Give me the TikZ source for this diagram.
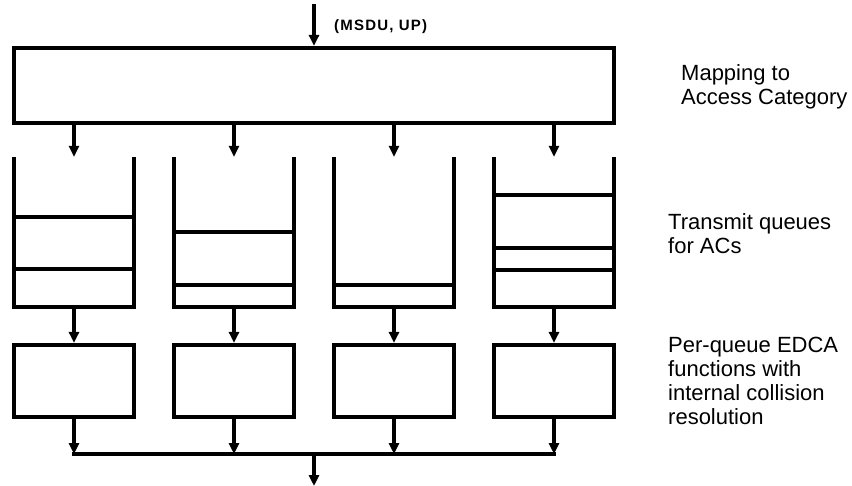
\documentclass[tikz,border=0pt]{standalone}
\usepackage{fontspec}
\setmainfont{Liberation Sans}
\usetikzlibrary{arrows.meta}
\begin{document}
\begin{tikzpicture}[x=1pt,y=-1pt,
  box/.style={draw, line width=4.2pt, minimum width=120pt, inner sep=0pt},
  qbox/.style={minimum width=120pt, minimum height=150pt, inner sep=0pt},
  qline/.style={line width=4.2pt, line join=miter},
  sep/.style={line width=4pt},
  arr/.style={line width=3.2pt, -{Triangle[length=11pt,width=10pt]}},
  bus/.style={line width=3.4pt},
  lbl/.style={anchor=west, align=left, inner sep=0pt, font=\fontsize{22}{24}\selectfont},
  ]
\useasboundingbox (0,0) rectangle (852,486);

% mapping box
\node[box, minimum width=600pt, minimum height=75pt] (map) at (314,85.5) {};
\coordinate (in) at (314,4);
\draw[arr] (in) -- (map.north);
\node[anchor=west, inner sep=0pt, font=\fontsize{15}{17}\selectfont\bfseries\addfontfeature{LetterSpace=8}] (msdu) at (334,27) {(MSDU, UP)};

% queues
\foreach \i/\x in {1/74,2/234,3/394,4/554}{
  \node[qbox] (q\i) at (\x,232) {};
  \draw[qline] (q\i.north west) -- (q\i.south west) -- (q\i.south east) -- (q\i.north east);
  \draw[arr] (map.south -| q\i.north) -- (q\i.north);
  \node[box, minimum height=72pt] (e\i) at (\x,381) {};
  \draw[arr] (q\i.south) -- (e\i.north);
  \coordinate (b\i) at (\x,454);
  \draw[arr] (e\i.south) -- (b\i);
}
% queue contents
\draw[sep] ([yshift=90pt]q1.south west) -- ([yshift=90pt]q1.south east);
\draw[sep] ([yshift=38pt]q1.south west) -- ([yshift=38pt]q1.south east);
\draw[sep] ([yshift=75pt]q2.south west) -- ([yshift=75pt]q2.south east);
\draw[sep] ([yshift=22pt]q2.south west) -- ([yshift=22pt]q2.south east);
\draw[sep] ([yshift=22pt]q3.south west) -- ([yshift=22pt]q3.south east);
\draw[sep] ([yshift=112pt]q4.south west) -- ([yshift=112pt]q4.south east);
\draw[sep] ([yshift=59pt]q4.south west) -- ([yshift=59pt]q4.south east);
\draw[sep] ([yshift=37pt]q4.south west) -- ([yshift=37pt]q4.south east);

% output bus
\draw[bus] ([xshift=-1.6pt]b1) -- ([xshift=1.6pt]b4);
\coordinate (bm) at (314,454);
\coordinate (out) at (314,486);
\draw[arr] (bm) -- (out);

% right labels
\node[lbl] (l1) at (681,86.5) {Mapping to\\Access Category};
\node[lbl] (l2) at (668,233.5) {Transmit queues\\for ACs};
\node[lbl] (l3) at (668,381) {Per-queue EDCA\\functions with\\internal collision\\resolution};
\end{tikzpicture}
\end{document}
